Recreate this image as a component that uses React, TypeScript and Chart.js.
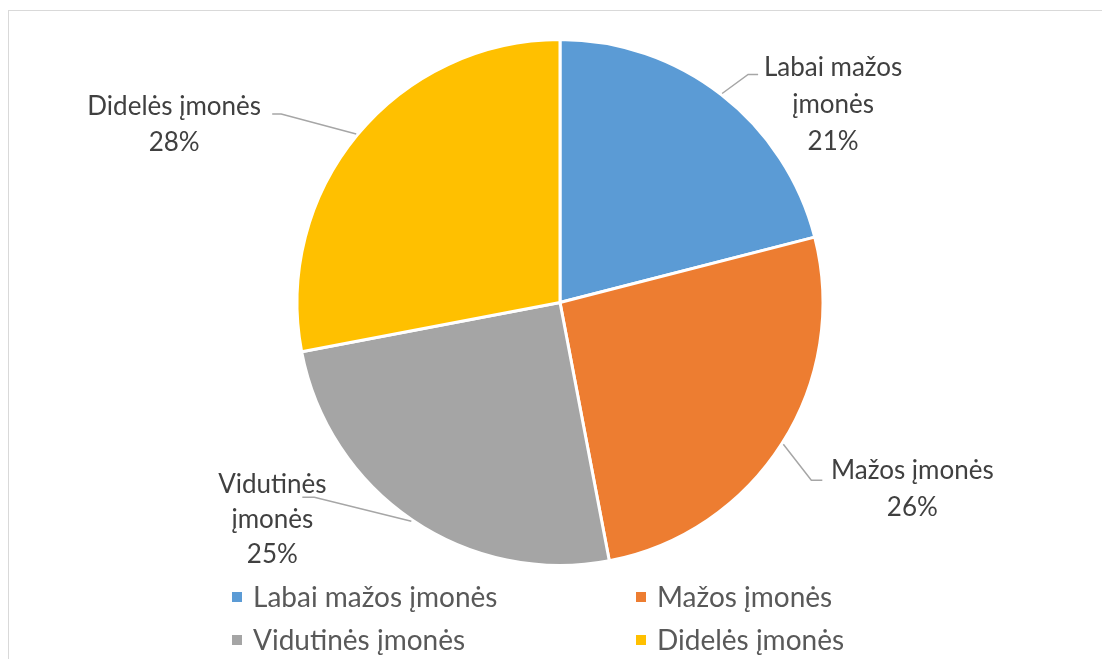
import React, { useEffect, useRef } from "react";
import { Chart, registerables } from "chart.js";

Chart.register(...registerables);

// ---- data ----
const categories = ["Labai mažos įmonės", "Mažos įmonės", "Vidutinės įmonės", "Didelės įmonės"];
const shares = [21, 26, 25, 28];
const wrappedNames = [["Labai mažos", "įmonės"], ["Mažos įmonės"], ["Vidutinės", "įmonės"], ["Didelės įmonės"]];
const colors = ["#5B9BD5", "#ED7D31", "#A5A5A5", "#FFC000"];

// ---- label layout (relative to slice edge at mid-angle) ----
const labelLayout = [
  { elbow: [26, -19], hLen: 10, textDx: 111, textDy: -18, lineH: 37 },
  { elbow: [28, 36], hLen: 11, textDx: 129, textDy: 35, lineH: 37 },
  { elbow: [-97, -24], hLen: -12, textDx: -139, textDy: -28, lineH: 35 },
  { elbow: [-75, -20], hLen: -9, textDx: -182, textDy: -19, lineH: 36.5 },
];

const FONT = "Lato, 'Open Sans', sans-serif";
const LABEL_SIZE = 26;
const LEGEND_SIZE = 28;

const outsideLabels = {
  id: "outsideLabels",
  afterDatasetsDraw(chart: any) {
    const ctx = chart.ctx;
    const meta = chart.getDatasetMeta(0);
    const total = shares.reduce((a, b) => a + b, 0);
    meta.data.forEach((arc: any, i: number) => {
      const { x, y, startAngle, endAngle, outerRadius } = arc.getProps(
        ["x", "y", "startAngle", "endAngle", "outerRadius"],
        true
      );
      const mid = (startAngle + endAngle) / 2;
      const r = outerRadius + 1.5;
      const px = x + Math.cos(mid) * r;
      const py = y + Math.sin(mid) * r;
      const L = labelLayout[i];
      const ex = px + L.elbow[0];
      const ey = py + L.elbow[1];
      ctx.save();
      ctx.strokeStyle = "#A6A6A6";
      ctx.lineWidth = 1.5;
      ctx.beginPath();
      ctx.moveTo(px, py);
      ctx.lineTo(ex, ey);
      ctx.lineTo(ex + L.hLen, ey);
      ctx.stroke();
      const pct = Math.round((shares[i] / total) * 100) + "%";
      const lines = [...wrappedNames[i], pct];
      ctx.fillStyle = "#404040";
      ctx.font = `${LABEL_SIZE}px ${FONT}`;
      ctx.textAlign = "center";
      ctx.textBaseline = "alphabetic";
      lines.forEach((t, k) => {
        ctx.fillText(t, px + L.textDx, py + L.textDy + k * L.lineH);
      });
      ctx.restore();
    });
  },
};

const gridLegend = {
  id: "gridLegend",
  afterDraw(chart: any) {
    const ctx = chart.ctx;
    const colX = [223, 627];
    const rowY = [596, 639];
    ctx.save();
    ctx.font = `${LEGEND_SIZE}px ${FONT}`;
    ctx.textBaseline = "alphabetic";
    ctx.textAlign = "left";
    categories.forEach((name, i) => {
      const cx = colX[i % 2];
      const by = rowY[Math.floor(i / 2)];
      ctx.fillStyle = colors[i];
      ctx.fillRect(cx, by - 15, 10, 10);
      ctx.fillStyle = "#595959";
      ctx.fillText(name, cx + 21, by);
    });
    ctx.restore();
  },
};

export default function App() {
  const ref = useRef<HTMLCanvasElement | null>(null);
  useEffect(() => {
    if (!ref.current) return;
    const chart = new Chart(ref.current, {
      type: "pie",
      data: {
        labels: categories,
        datasets: [
          {
            data: shares,
            backgroundColor: colors,
            borderColor: "#FFFFFF",
            borderWidth: 3,
          },
        ],
      },
      options: {
        responsive: false,
        animation: false,
        layout: { padding: { top: 27, bottom: 92, left: 9, right: 0 } },
        plugins: {
          legend: { display: false },
          tooltip: { enabled: false },
        },
      },
      plugins: [outsideLabels, gridLegend],
    });
    return () => chart.destroy();
  }, []);
  return (
    <div
      style={{
        position: "absolute",
        left: 8,
        top: 10,
        width: 1093,
        height: 648,
        borderTop: "1px solid #D9D9D9",
        borderLeft: "1px solid #D9D9D9",
        background: "#fff",
        overflow: "hidden",
      }}
    >
      <canvas ref={ref} width={1093} height={648} style={{ display: "block" }} />
    </div>
  );
}
